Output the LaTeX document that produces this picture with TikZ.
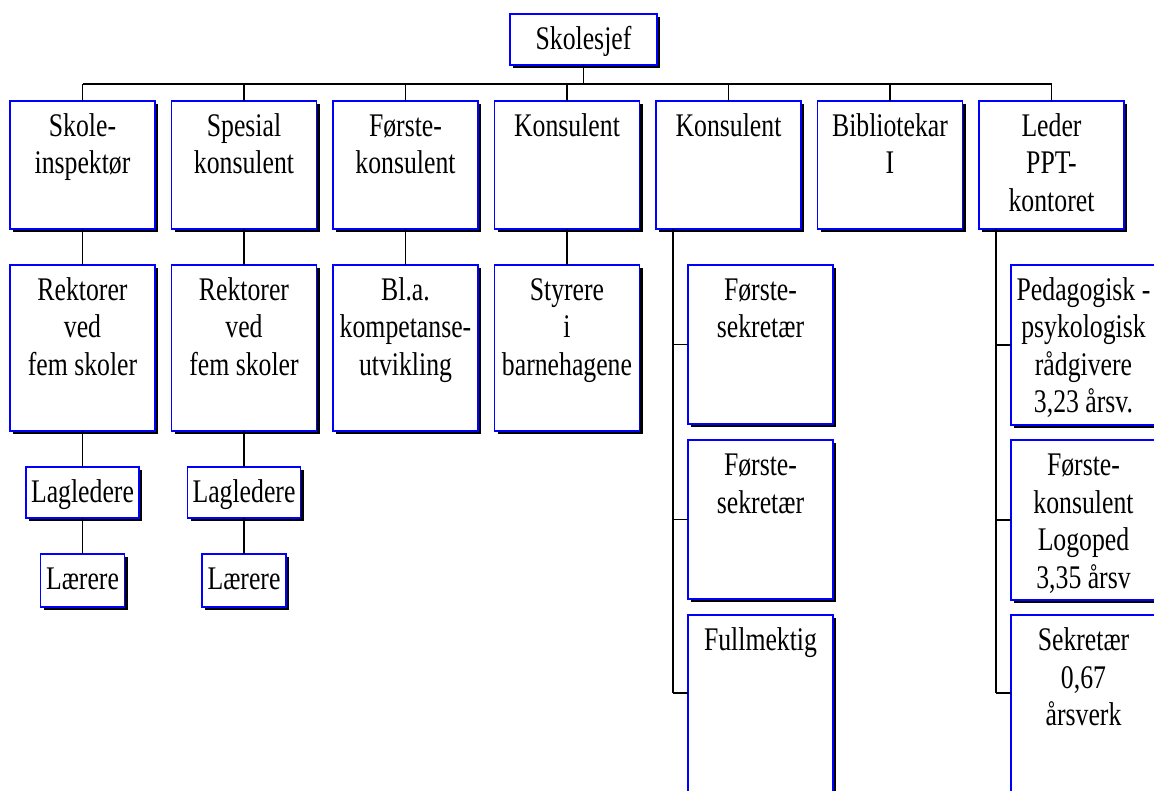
\documentclass[tikz,border=0pt]{standalone}
\usepackage{fontspec}
\setmainfont{Liberation Serif}[FakeStretch=0.78]
\usetikzlibrary{shadows,calc}
\tikzset{
  orgbox/.style={draw=blue, line width=1.2pt, fill=white, inner sep=0pt, outer sep=0pt,
    drop shadow={shadow xshift=3pt, shadow yshift=-3pt, fill=black, opacity=1}},
  conn/.style={draw=black, line width=1.1pt}
}
\newcommand{\bxt}[3]{\parbox[c][#2][t]{#1}{\centering\fontsize{33}{37.5}\selectfont\rule{0pt}{35.5pt}#3\par}}
\begin{document}
\begin{tikzpicture}[x=1pt,y=-1pt]
\useasboundingbox (0,0) rectangle (1154,791);
\clip (0,0) rectangle (1154,791);
% top
\node[orgbox, anchor=north west] (sj) at (510,14) {\bxt{147pt}{51pt}{Skolesjef}};
% level 1
\node[orgbox, anchor=north west] (c1) at (10,101)    {\bxt{145pt}{128pt}{Skole-\\inspektør}};
\node[orgbox, anchor=north west] (c2) at (171.5,101) {\bxt{145pt}{128pt}{Spesial\\konsulent}};
\node[orgbox, anchor=north west] (c3) at (333,101)   {\bxt{145pt}{128pt}{Første-\\konsulent}};
\node[orgbox, anchor=north west] (c4) at (494.5,101) {\bxt{145pt}{128pt}{Konsulent}};
\node[orgbox, anchor=north west] (c5) at (656,101)   {\bxt{145pt}{128pt}{Konsulent}};
\node[orgbox, anchor=north west] (c6) at (817.5,101) {\bxt{145pt}{128pt}{Bibliotekar\\I}};
\node[orgbox, anchor=north west] (c7) at (979,101)   {\bxt{145pt}{128pt}{Leder\\PPT-\\kontoret}};
% level 2
\node[orgbox, anchor=north west] (r1) at (10,265)    {\bxt{145pt}{166pt}{Rektorer\\ved\\fem skoler}};
\node[orgbox, anchor=north west] (r2) at (171.5,265) {\bxt{145pt}{166pt}{Rektorer\\ved\\fem skoler}};
\node[orgbox, anchor=north west] (r3) at (333,265)   {\bxt{145pt}{166pt}{Bl.a.\\kompetanse-\\utvikling}};
\node[orgbox, anchor=north west] (r4) at (494.5,265) {\bxt{145pt}{166pt}{Styrere\\i\\barnehagene}};
% level 3 / 4
\node[orgbox, anchor=north] (l1) at (82.5,467) {\bxt{113pt}{51pt}{Lagledere}};
\node[orgbox, anchor=north] (l2) at (244,467)  {\bxt{113pt}{51pt}{Lagledere}};
\node[orgbox, anchor=north] (t1) at (82.5,554) {\bxt{84pt}{53pt}{Lærere}};
\node[orgbox, anchor=north] (t2) at (244,554)  {\bxt{84pt}{53pt}{Lærere}};
% column 5 staff
\node[orgbox, anchor=north west] (fs1) at (688,265) {\bxt{145pt}{159pt}{Første-\\sekretær}};
\node[orgbox, anchor=north west] (fs2) at (688,440) {\bxt{145pt}{159pt}{Første-\\sekretær}};
\node[orgbox, anchor=north west] (fm)  at (688,615) {\bxt{145pt}{220pt}{Fullmektig}};
% column 7 staff
\node[orgbox, anchor=north west] (pp1) at (1011,265) {\bxt{145pt}{160pt}{Pedagogisk -\\psykologisk\\rådgivere\\3,23 årsv.}};
\node[orgbox, anchor=north west] (pp2) at (1011,440) {\bxt{145pt}{160pt}{Første-\\konsulent\\Logoped\\3,35 årsv}};
\node[orgbox, anchor=north west] (pp3) at (1011,615) {\bxt{145pt}{220pt}{Sekretær\\0,67\\årsverk}};
% connectors
\coordinate (bus) at (0,84);
\draw[conn] (sj.south) -- (sj.south |- bus);
\draw[conn] (c1.north |- bus) -- (c7.north |- bus);
\foreach \c in {c1,c2,c3,c4,c5,c6,c7} {\draw[conn] (\c.north) -- (\c.north |- bus);}
\draw[conn] (c1.south) -- (r1.north);
\draw[conn] (c2.south) -- (r2.north);
\draw[conn] (c3.south) -- (r3.north);
\draw[conn] (c4.south) -- (r4.north);
\draw[conn] (r1.south) -- (l1.north);
\draw[conn] (r2.south) -- (l2.north);
\draw[conn] (l1.south) -- (t1.north);
\draw[conn] (l2.south) -- (t2.north);
% hanging staff of column 5
\coordinate (k5) at ($(c5.south west)+(17,0)$);
\coordinate (fmw) at ($(fm.north west)+(0,78)$);
\draw[conn] (k5) -- (k5 |- fmw);
\draw[conn] (k5 |- fs1.west) -- (fs1.west);
\draw[conn] (k5 |- fs2.west) -- (fs2.west);
\draw[conn] (k5 |- fmw) -- (fmw);
% hanging staff of column 7
\coordinate (k7) at ($(c7.south west)+(17,0)$);
\coordinate (pp3w) at ($(pp3.north west)+(0,78)$);
\draw[conn] (k7) -- (k7 |- pp3w);
\draw[conn] (k7 |- pp1.west) -- (pp1.west);
\draw[conn] (k7 |- pp2.west) -- (pp2.west);
\draw[conn] (k7 |- pp3w) -- (pp3w);
\end{tikzpicture}
\end{document}
